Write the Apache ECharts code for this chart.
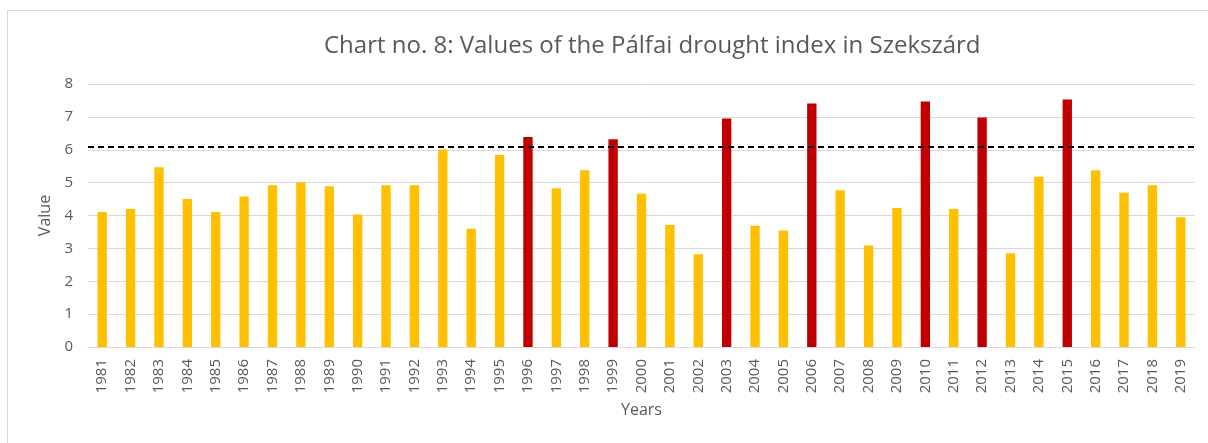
<!DOCTYPE html>
<html>
<head>
	<meta charset="UTF-8">
	<title>Pálfai drought index</title>
	<script src="https://cdn.jsdelivr.net/npm/echarts@6/dist/echarts.min.js"></script>
	<style>
		body { margin: 0; background: #fff; }
		#frame { position: absolute; left: 7px; top: 10px; width: 1300px; height: 500px; border: 1px solid #d9d9d9; }
		#main { position: absolute; left: 0; top: 0; width: 1208px; height: 443px; }
	</style>
</head>
<body>
	<div id="frame"></div>
	<div id="main"></div>
	<script type="text/javascript">
		// years and index values
		var years = ['1981', '1982', '1983', '1984', '1985', '1986', '1987', '1988', '1989', '1990',
			'1991', '1992', '1993', '1994', '1995', '1996', '1997', '1998', '1999', '2000',
			'2001', '2002', '2003', '2004', '2005', '2006', '2007', '2008', '2009', '2010',
			'2011', '2012', '2013', '2014', '2015', '2016', '2017', '2018', '2019'];
		var values = [4.11, 4.20, 5.47, 4.50, 4.11, 4.58, 4.92, 5.01, 4.89, 4.03,
			4.92, 4.92, 6.01, 3.60, 5.84, 6.39, 4.83, 5.38, 6.32, 4.66,
			3.71, 2.82, 6.95, 3.69, 3.54, 7.41, 4.77, 3.09, 4.23, 7.47,
			4.20, 6.98, 2.85, 5.18, 7.53, 5.38, 4.69, 4.92, 3.95];
		var threshold = 6.1;
		var yTicks = [0, 1, 2, 3, 4, 5, 6, 7, 8];

		var font = '"Open Sans", sans-serif';
		var myChart = echarts.init(document.getElementById('main'));
		var option = {
			backgroundColor: 'transparent',
			animation: false,
			title: {
				text: 'Chart no. 8: Values of the Pálfai drought index in Szekszárd',
				left: 319,
				top: 29,
				textStyle: { color: '#595959', fontSize: 24, fontWeight: 'normal', fontFamily: font }
			},
			grid: { left: 88, right: 13, top: 84, bottom: 96 },
			xAxis: {
				type: 'category',
				data: years,
				name: 'Years',
				nameLocation: 'middle',
				nameGap: 55,
				nameTextStyle: { color: '#595959', fontSize: 16, fontFamily: font },
				axisLine: { lineStyle: { color: '#d9d9d9' } },
				axisTick: { show: false },
				axisLabel: { interval: 0, rotate: 90, margin: 12, color: '#595959', fontSize: 15, fontFamily: font }
			},
			yAxis: {
				type: 'value',
				min: yTicks[0],
				max: yTicks[yTicks.length - 1],
				interval: 1,
				name: 'Value',
				nameLocation: 'middle',
				nameGap: 35,
				nameTextStyle: { color: '#595959', fontSize: 16, fontFamily: font },
				axisLine: { show: false },
				axisTick: { show: false },
				axisLabel: { margin: 15, color: '#595959', fontSize: 15, fontFamily: font },
				splitLine: { lineStyle: { color: '#d9d9d9', width: 1 } }
			},
			series: [{
				type: 'bar',
				barWidth: '33%',
				data: values.map(function (v) {
					return { value: v, itemStyle: { color: v > threshold ? '#C00000' : '#FFC000' } };
				}),
				markLine: {
					silent: true,
					symbol: 'none',
					label: { show: false },
					lineStyle: { color: '#000', type: [6, 4], width: 2 },
					data: [{ yAxis: threshold }]
				}
			}]
		};
		myChart.setOption(option);
	</script>
</body>
</html>
